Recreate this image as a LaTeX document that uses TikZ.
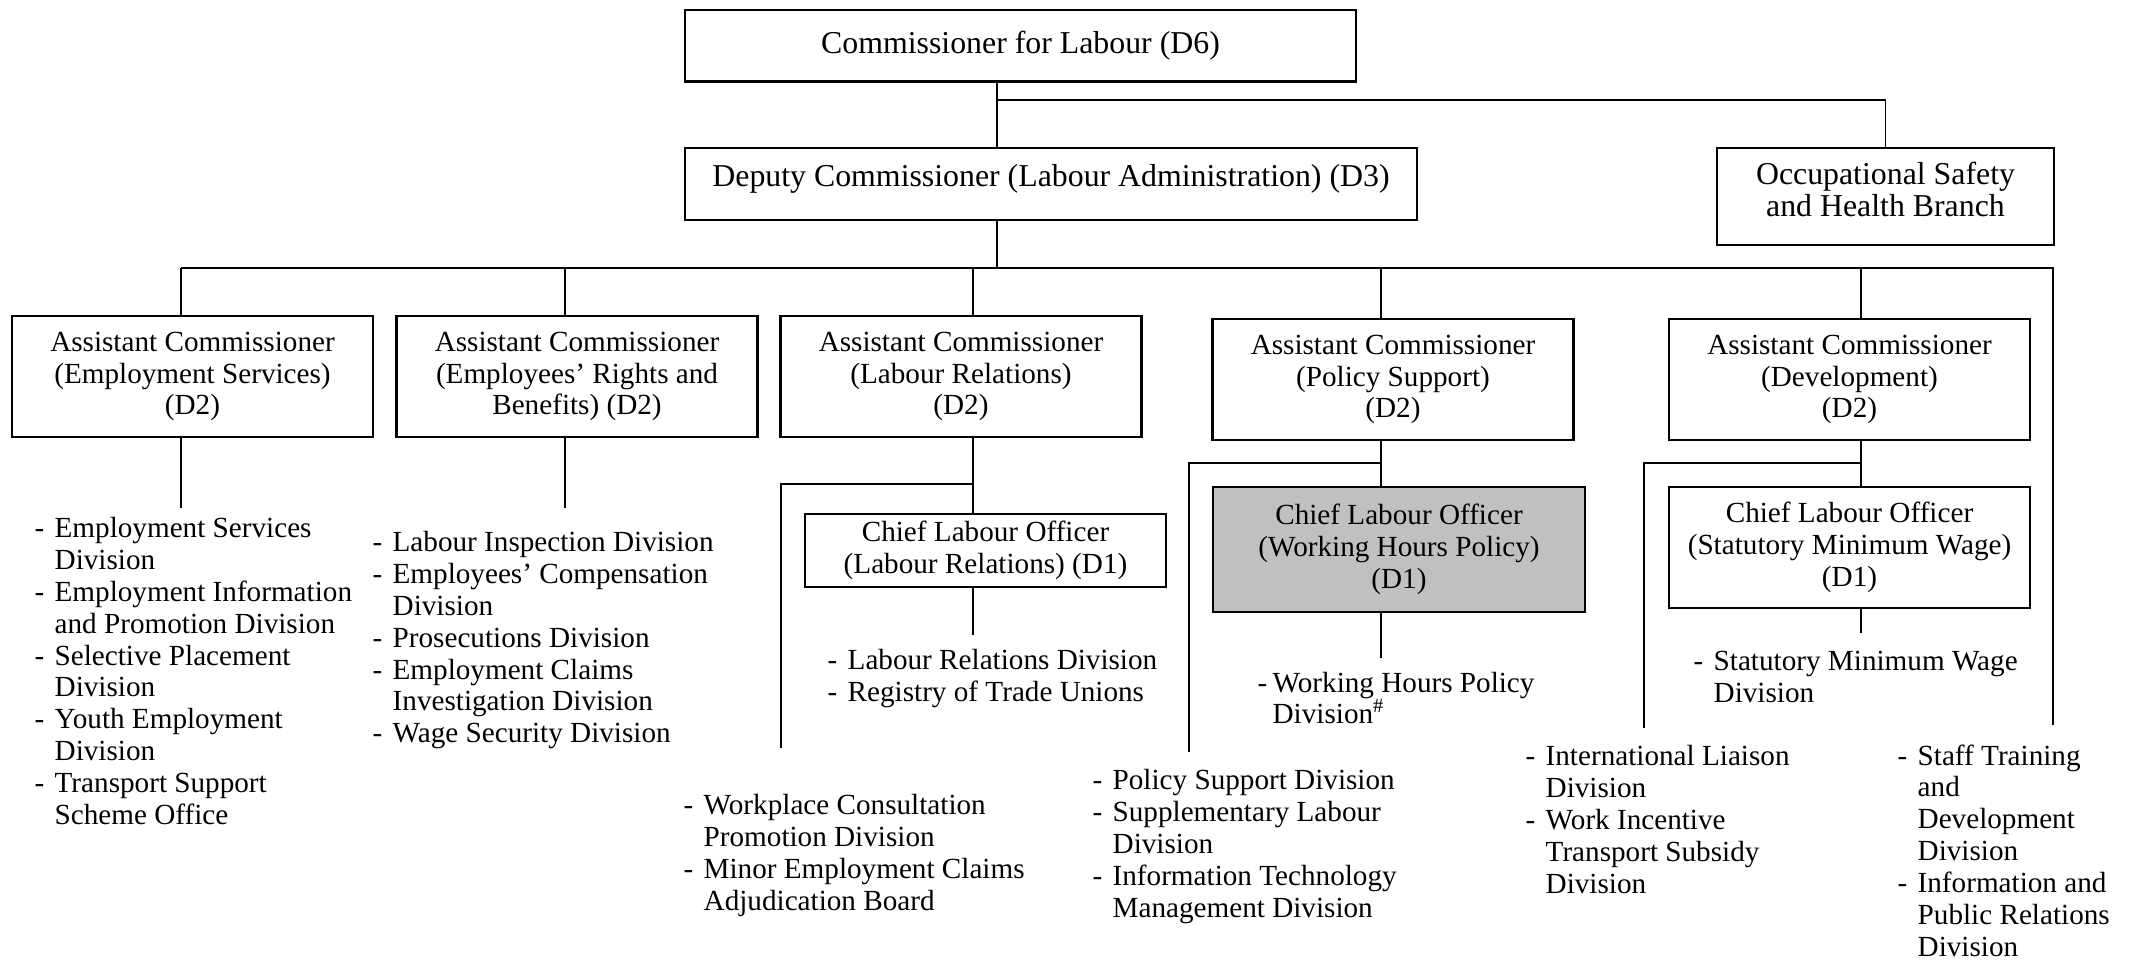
\documentclass[tikz,border=0pt]{standalone}
\usepackage{fontspec}
\setmainfont{Liberation Serif}
\usepackage{tikz}
\usetikzlibrary{calc}

\definecolor{officegray}{RGB}{192,192,192}
\newcommand{\dashitem}{\makebox[7.6pt][l]{-}}
\newcommand{\dashcont}{\hspace*{7.6pt}}

\begin{document}
\begin{tikzpicture}[
    x=0.377pt, y=-0.377pt,
    font=\fontsize{11}{12}\selectfont,
    box/.style={draw, line width=0.8pt, align=center, inner sep=0pt, fill=white},
    bigbox/.style={box, font=\fontsize{12}{12}\selectfont},
    acbox/.style={box, minimum width=136.1pt, minimum height=45.6pt},
    list/.style={anchor=north west, align=left, inner sep=0pt},
    link/.style={line width=0.5pt}
]
\useasboundingbox (0,0) rectangle (2130,960);

% 1) Commissioner and the two branches
\node[bigbox, minimum width=253pt, minimum height=27.1pt] (top) at (1020.5,45.5) {Commissioner for Labour (D6)};
\node[bigbox, minimum width=276pt, minimum height=27.1pt, text depth=6.5pt] (dep) at (1051,184) {Deputy Commissioner (Labour Administration) (D3)};
\node[bigbox, minimum width=127pt, minimum height=36.6pt, text depth=5.5pt] (osh) at (1885.5,196.5) {Occupational Safety\\and Health Branch};

\coordinate (split) at (997,100);
\draw[link] (top.south -| split) -- (dep.north -| split);
\draw[link] (split) -| (osh.north);

% 2) Assistant Commissioners
\node[acbox] (ac1) at (192.5,376.5) {Assistant Commissioner\\(Employment Services)\\(D2)};
\node[acbox] (ac2) at (577,376.5) {Assistant Commissioner\\(Employees' Rights and\\Benefits) (D2)};
\node[acbox] (ac3) at (961,376.5) {Assistant Commissioner\\(Labour Relations)\\(D2)};
\node[acbox] (ac4) at (1393,379.5) {Assistant Commissioner\\(Policy Support)\\(D2)};
\node[acbox] (ac5) at (1849.5,379.5) {Assistant Commissioner\\(Development)\\(D2)};

\coordinate (bus) at (997,268);
\coordinate (busend) at (2053,725);
\coordinate (s1) at (181,268);
\coordinate (s2) at (565,268);
\coordinate (s3) at (973,268);
\coordinate (s4) at (1381,268);
\coordinate (s5) at (1861,268);
\draw[link] (dep.south -| bus) -- (bus);
\draw[link] (s1) -- (bus -| busend) -- (busend);
\foreach \n in {1,...,5}
    \draw[link] (s\n) -- (ac\n.north -| s\n);

% 3) Chief Labour Officers
\node[box, minimum width=136.1pt, minimum height=27.5pt] (clo1) at (985.5,550.5) {Chief Labour Officer\\(Labour Relations) (D1)};
\node[box, fill=officegray, minimum width=140.2pt, minimum height=47.1pt] (clo2) at (1399,549.5) {Chief Labour Officer\\(Working Hours Policy)\\(D1)};
\node[box, minimum width=136.1pt, minimum height=45.6pt] (clo3) at (1849.5,547.5) {Chief Labour Officer\\(Statutory Minimum Wage)\\(D1)};

\coordinate (e1) at (181,508);
\coordinate (e2) at (565,508);
\draw[link] (ac1.south -| e1) -- (e1);
\draw[link] (ac2.south -| e2) -- (e2);

\coordinate (k3) at (973,484);
\coordinate (b3) at (781,748);
\coordinate (e3) at (973,635);
\draw[link] (ac3.south -| s3) -- (clo1.north -| s3);
\draw[link] (k3) -| (b3);
\draw[link] (clo1.south -| e3) -- (e3);

\coordinate (k4) at (1381,463);
\coordinate (b4) at (1189,752);
\coordinate (e4) at (1381,658);
\draw[link] (ac4.south -| s4) -- (clo2.north -| s4);
\draw[link] (k4) -| (b4);
\draw[link] (clo2.south -| e4) -- (e4);

\coordinate (k5) at (1861,463);
\coordinate (b5) at (1644,728);
\coordinate (e5) at (1861,633);
\draw[link] (ac5.south -| s5) -- (clo3.north -| s5);
\draw[link] (k5) -| (b5);
\draw[link] (clo3.south -| e5) -- (e5);

% 4) Divisions
\node[list] (esd) at (34,517) {\dashitem Employment Services\\\dashcont Division\\
    \dashitem Employment Information\\\dashcont and Promotion Division\\
    \dashitem Selective Placement\\\dashcont Division\\
    \dashitem Youth Employment\\\dashcont Division\\
    \dashitem Transport Support\\\dashcont Scheme Office};
\node[list] (erd) at (372,531) {\dashitem Labour Inspection Division\\
    \dashitem Employees' Compensation\\\dashcont Division\\
    \dashitem Prosecutions Division\\
    \dashitem Employment Claims\\\dashcont Investigation Division\\
    \dashitem Wage Security Division};
\node[list] (lrd) at (827,649) {\dashitem Labour Relations Division\\
    \dashitem Registry of Trade Unions};
\node[list] (wcd) at (683,794) {\dashitem Workplace Consultation\\\dashcont Promotion Division\\
    \dashitem Minor Employment Claims\\\dashcont Adjudication Board};
\node[list, font=\fontsize{11}{11.4}\selectfont] (whd) at (1257,672) {\makebox[5.7pt][l]{-}Working Hours Policy\\
    \hspace*{5.7pt}Division\textsuperscript{\#}};
\node[list] (psd) at (1092,769) {\dashitem Policy Support Division\\
    \dashitem Supplementary Labour\\\dashcont Division\\
    \dashitem Information Technology\\\dashcont Management Division};
\node[list] (smd) at (1693,651) {\dashitem Statutory Minimum Wage\\\dashcont Division};
\node[list] (ild) at (1525,745) {\dashitem International Liaison\\\dashcont Division\\
    \dashitem Work Incentive\\\dashcont Transport Subsidy\\\dashcont Division};
\node[list] (std) at (1897,744) {\dashitem Staff Training\\\dashcont and\\\dashcont Development\\\dashcont Division\\
    \dashitem Information and\\\dashcont Public Relations\\\dashcont Division};
\end{tikzpicture}
\end{document}
